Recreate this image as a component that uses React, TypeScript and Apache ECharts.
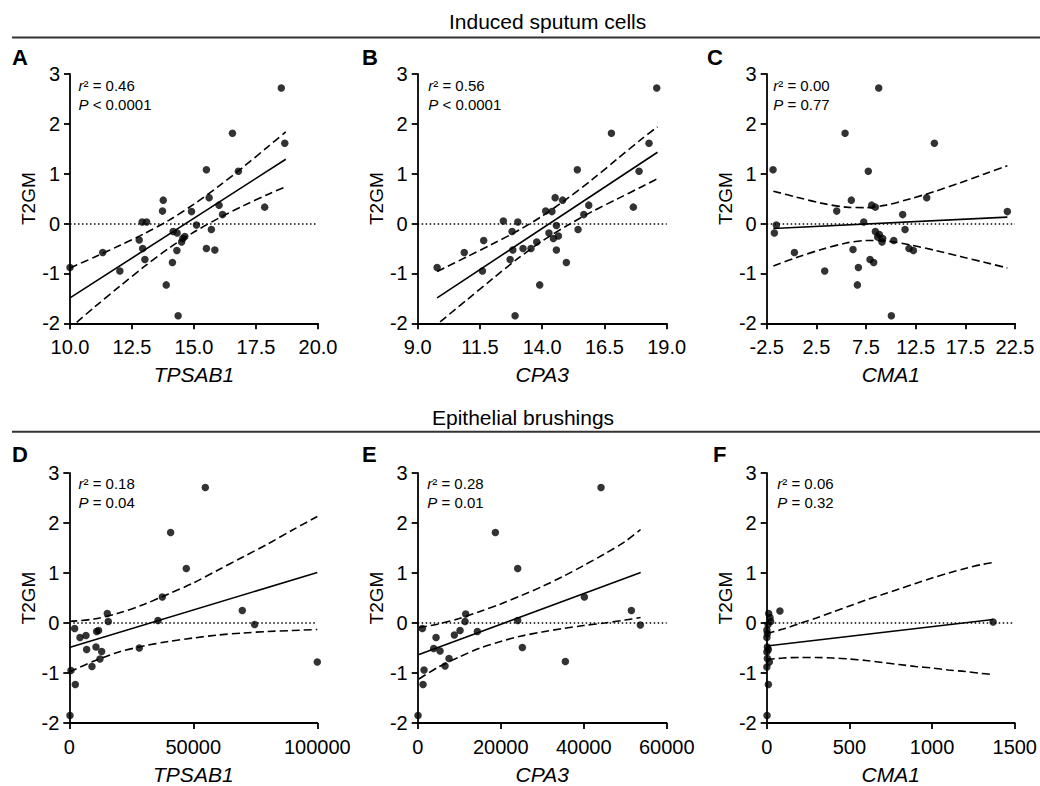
import React, { useEffect, useRef } from "react";
import * as echarts from "echarts";

const FONT = "'Liberation Sans', Arial, Helvetica, sans-serif";

// ---------- Data ----------
const yMin = -2;
const yMax = 3;
const yInterval = 1;

// A: induced sputum, TPSAB1
const pointsA: number[][] = [
  [18.52, 2.72], [16.55, 1.81], [18.66, 1.61], [15.5, 1.08], [16.79, 1.05], [13.76, 0.47],
  [15.61, 0.52], [13.73, 0.25], [14.9, 0.24], [16.01, 0.37], [16.15, 0.18], [17.85, 0.33],
  [12.91, 0.03], [13.09, 0.03], [15.1, -0.03], [14.16, -0.16], [14.32, -0.19], [15.7, -0.12],
  [12.79, -0.33], [14.63, -0.26], [14.5, -0.37], [14.55, -0.3], [12.93, -0.5], [11.32, -0.58],
  [13.02, -0.72], [14.31, -0.54], [15.5, -0.5], [15.84, -0.53], [14.13, -0.78], [12.01, -0.95],
  [10.0, -0.88], [13.88, -1.23], [14.36, -1.85],
];
const fitA: number[][] = [[10, -1.49], [18.7, 1.29]];
const upperA: number[][] = [
  [10, -0.89], [11, -0.67], [12, -0.44], [13, -0.2], [14, 0.07], [15, 0.39], [16, 0.75],
  [17, 1.14], [18, 1.55], [18.7, 1.84],
];
const lowerA: number[][] = [
  [10.27, -1.98], [11, -1.67], [12, -1.26], [13, -0.86], [14, -0.49], [15, -0.17], [16, 0.11],
  [17, 0.36], [18, 0.59], [18.7, 0.74],
];

// B: induced sputum, CPA3
const pointsB: number[][] = [
  [18.6, 2.72], [16.78, 1.81], [18.29, 1.61], [15.41, 1.08], [17.89, 1.05], [14.52, 0.52],
  [14.82, 0.47], [14.14, 0.25], [14.39, 0.24], [15.87, 0.37], [15.67, 0.18], [17.66, 0.33],
  [12.44, 0.05], [13.02, 0.03], [14.57, -0.04], [12.79, -0.16], [14.27, -0.19], [15.44, -0.12],
  [11.65, -0.34], [14.45, -0.3], [14.65, -0.25], [13.78, -0.37], [12.82, -0.53], [10.87, -0.58],
  [12.71, -0.72], [13.23, -0.5], [13.55, -0.5], [14.57, -0.53], [14.97, -0.78], [11.6, -0.95],
  [9.78, -0.88], [13.9, -1.23], [12.91, -1.85],
];
const fitB: number[][] = [[9.78, -1.49], [18.63, 1.43]];
const upperB: number[][] = [
  [9.78, -0.96], [11, -0.66], [12, -0.41], [13, -0.15], [14, 0.15], [15, 0.5], [16, 0.88],
  [17, 1.29], [18, 1.7], [18.63, 1.94],
];
const lowerB: number[][] = [
  [9.9, -1.97], [11, -1.52], [12, -1.11], [13, -0.71], [14, -0.35], [15, -0.04], [16, 0.24],
  [17, 0.49], [18, 0.74], [18.63, 0.9],
];

// C: induced sputum, CMA1
const pointsC: number[][] = [
  [8.78, 2.72], [5.39, 1.81], [14.38, 1.61], [-1.86, 1.08], [7.73, 1.05], [6.02, 0.47],
  [13.61, 0.52], [4.55, 0.25], [21.73, 0.24], [8.07, 0.37], [8.44, 0.33], [11.19, 0.18],
  [7.27, 0.03], [-1.53, -0.03], [-1.73, -0.19], [8.44, -0.16], [11.43, -0.12], [8.67, -0.27],
  [9.18, -0.3], [10.29, -0.34], [9.11, -0.37], [6.19, -0.52], [0.29, -0.58], [11.83, -0.5],
  [12.27, -0.54], [7.9, -0.72], [8.27, -0.78], [3.34, -0.95], [6.73, -0.88], [6.63, -1.23],
  [10.05, -1.85], [8.84, -0.22],
];
const fitC: number[][] = [[-1.83, -0.1], [21.73, 0.13]];
const upperC: number[][] = [
  [-1.83, 0.65], [0.5, 0.53], [3, 0.41], [5.5, 0.33], [7.5, 0.32], [9.5, 0.37], [12, 0.5],
  [14.5, 0.65], [17, 0.82], [19.5, 1.0], [21.73, 1.16],
];
const lowerC: number[][] = [
  [-1.83, -0.85], [0.5, -0.68], [3, -0.52], [5.5, -0.39], [7.5, -0.34], [9.5, -0.35], [12, -0.43],
  [14.5, -0.54], [17, -0.66], [19.5, -0.78], [21.73, -0.89],
];

// D: epithelial brushings, TPSAB1
const pointsD: number[][] = [
  [54839, 2.71], [40860, 1.81], [47177, 1.09], [37500, 0.52], [69758, 0.25], [74731, -0.03],
  [35753, 0.05], [15323, 0.19], [15726, 0.03], [2150, -0.11], [4301, -0.29], [6720, -0.25],
  [11022, -0.17], [11800, -0.15], [6989, -0.53], [10753, -0.48], [13038, -0.57], [12366, -0.72],
  [9140, -0.87], [28226, -0.5], [672, -0.95], [2419, -1.23], [269, -1.85], [100000, -0.78],
];
const fitD: number[][] = [[0, -0.49], [100000, 1.01]];
const upperD: number[][] = [
  [0, 0.03], [10000, 0.08], [20000, 0.2], [30000, 0.37], [40000, 0.58], [50000, 0.8],
  [60000, 1.06], [70000, 1.32], [80000, 1.58], [90000, 1.86], [100000, 2.13],
];
const lowerD: number[][] = [
  [0, -0.98], [10000, -0.76], [20000, -0.58], [30000, -0.46], [40000, -0.37], [50000, -0.3],
  [60000, -0.24], [70000, -0.2], [80000, -0.17], [90000, -0.15], [100000, -0.13],
];

// E: epithelial brushings, CPA3
const pointsE: number[][] = [
  [44177, 2.71], [18715, 1.81], [24096, 1.09], [40161, 0.52], [51486, 0.25], [53655, -0.04],
  [24096, 0.05], [11566, 0.18], [11406, 0.03], [1124, -0.11], [4418, -0.29], [8835, -0.24],
  [10201, -0.15], [14378, -0.17], [3855, -0.51], [5382, -0.56], [7550, -0.71], [6586, -0.86],
  [25221, -0.49], [35582, -0.77], [1526, -0.94], [1285, -1.23], [80, -1.85],
];
const fitE: number[][] = [[321, -0.63], [53735, 1.01]];
const upperE: number[][] = [
  [300, -0.09], [5000, -0.02], [10000, 0.09], [15000, 0.23], [20000, 0.38], [25000, 0.55],
  [30000, 0.73], [35000, 0.93], [40000, 1.15], [45000, 1.38], [50000, 1.63], [53700, 1.87],
];
const lowerE: number[][] = [
  [300, -1.12], [5000, -0.88], [10000, -0.68], [15000, -0.5], [20000, -0.37], [25000, -0.26],
  [30000, -0.18], [35000, -0.11], [40000, -0.05], [45000, 0.0], [50000, 0.06], [53700, 0.11],
];

// F: epithelial brushings, CMA1
const pointsF: number[][] = [
  [12, 0.19], [20, 0.11], [24, 0.03], [8, -0.03], [1, -0.14], [4, -0.21], [1, -0.29],
  [4, -0.48], [10, -0.53], [1, -0.58], [4, -0.71], [16, -0.78], [1, -0.88], [10, -1.23],
  [2, -1.85], [80, 0.24], [1369, 0.02],
];
const fitF: number[][] = [[0, -0.46], [1369, 0.07]];
const upperF: number[][] = [
  [0, -0.21], [100, -0.12], [200, -0.01], [300, 0.1], [400, 0.22], [500, 0.34], [600, 0.46],
  [700, 0.57], [800, 0.68], [900, 0.79], [1000, 0.9], [1100, 1.0], [1200, 1.09], [1300, 1.17],
  [1369, 1.21],
];
const lowerF: number[][] = [
  [0, -0.73], [100, -0.7], [200, -0.69], [300, -0.69], [400, -0.7], [500, -0.72], [600, -0.75],
  [700, -0.79], [800, -0.83], [900, -0.87], [1000, -0.9], [1100, -0.94], [1200, -0.97],
  [1300, -1.01], [1369, -1.03],
];

const letters = ["A", "B", "C", "D", "E", "F"];
const geneNames = ["TPSAB1", "CPA3", "CMA1", "TPSAB1", "CPA3", "CMA1"];
const r2Values = ["0.46", "0.56", "0.00", "0.18", "0.28", "0.06"];
const pValues = ["< 0.0001", "< 0.0001", "= 0.77", "= 0.04", "= 0.01", "= 0.32"];
const xMins = [10, 9, -2.5, 0, 0, 0];
const xMaxs = [20, 19, 22.5, 100000, 60000, 1500];
const xIntervals = [2.5, 2.5, 5, 50000, 20000, 500];
const xDecimals = [1, 1, 1, 0, 0, 0];
const sectionTitles = ["Induced sputum cells", "Epithelial brushings"];

const allPoints = [pointsA, pointsB, pointsC, pointsD, pointsE, pointsF];
const allFits = [fitA, fitB, fitC, fitD, fitE, fitF];
const allUpper = [upperA, upperB, upperC, upperD, upperE, upperF];
const allLower = [lowerA, lowerB, lowerC, lowerD, lowerE, lowerF];

// ---------- Layout ----------
const gridLefts = [70, 417.7, 766.7, 69.3, 417.7, 766.7];
const gridWidths = [248, 249, 248.3, 248, 249, 248.3];
const gridTops = [74, 74, 74, 473, 473, 473];
const gridHeights = [249.3, 249.3, 249.3, 250, 250, 250];
const letterX = [12, 362, 707, 12, 362, 713];
const letterY = [57.5, 57.5, 57.5, 454, 454, 454];
const annotX = [78.5, 428.3, 773.3, 78.5, 427.3, 777.3];
const annotY1 = [85.7, 85.7, 85.7, 483.3, 483.3, 483.3];
const annotY2 = [104, 104, 104, 502.7, 502.7, 502.7];
const titleX = [449, 432];
const titleY = [21, 417];
const ruleY = [37.5, 431.7];

function buildOption() {
  const axisLine = { show: true, onZero: false, lineStyle: { color: "#000", width: 1.8 } };
  const axisTick = { show: true, length: 6, inside: false, lineStyle: { color: "#000", width: 1.8 } };

  const grid = letters.map((_, i) => ({
    left: gridLefts[i],
    top: gridTops[i],
    width: gridWidths[i],
    height: gridHeights[i],
    containLabel: false,
  }));

  const xAxis = letters.map((_, i) => ({
    type: "value",
    gridIndex: i,
    min: xMins[i],
    max: xMaxs[i],
    interval: xIntervals[i],
    axisLine,
    axisTick,
    splitLine: { show: false },
    axisLabel: {
      color: "#000",
      fontSize: 20,
      fontFamily: FONT,
      margin: 14,
      formatter: (v: number) => v.toFixed(xDecimals[i]),
    },
    name: geneNames[i],
    nameLocation: "middle",
    nameGap: 41,
    nameTextStyle: { color: "#000", fontSize: 21, fontStyle: "italic", fontFamily: FONT },
  }));

  const yAxis = letters.map((_, i) => ({
    type: "value",
    gridIndex: i,
    min: yMin,
    max: yMax,
    interval: yInterval,
    axisLine,
    axisTick,
    splitLine: { show: false },
    axisLabel: { color: "#000", fontSize: 20, fontFamily: FONT, margin: 10 },
    name: "T2GM",
    nameLocation: "middle",
    nameGap: 24,
    nameTextStyle: { color: "#000", fontSize: 19, fontFamily: FONT },
  }));

  const series: any[] = [];
  letters.forEach((_, i) => {
    series.push({
      type: "line",
      xAxisIndex: i,
      yAxisIndex: i,
      data: allUpper[i],
      showSymbol: false,
      smooth: 0.3,
      lineStyle: { color: "#000", width: 1.6, type: [8, 4] },
      z: 2,
      silent: true,
    });
    series.push({
      type: "line",
      xAxisIndex: i,
      yAxisIndex: i,
      data: allLower[i],
      showSymbol: false,
      smooth: 0.3,
      lineStyle: { color: "#000", width: 1.6, type: [8, 4] },
      z: 2,
      silent: true,
    });
    series.push({
      type: "line",
      xAxisIndex: i,
      yAxisIndex: i,
      data: allFits[i],
      showSymbol: false,
      lineStyle: { color: "#000", width: 1.6 },
      z: 2,
      silent: true,
    });
    series.push({
      type: "scatter",
      xAxisIndex: i,
      yAxisIndex: i,
      data: allPoints[i],
      symbol: "circle",
      symbolSize: 7.5,
      itemStyle: { color: "#000" },
      z: 3,
      silent: true,
      markLine: {
        silent: true,
        symbol: ["none", "none"],
        label: { show: false },
        lineStyle: { color: "#000", type: [1.5, 2.5], width: 1.5 },
        data: [{ yAxis: 0 }],
      },
    });
  });

  const graphic: any[] = [];
  sectionTitles.forEach((t, k) => {
    graphic.push({
      type: "text",
      x: titleX[k],
      y: titleY[k],
      style: {
        text: t,
        fontSize: 21,
        fontFamily: FONT,
        fill: "#000",
        textAlign: "left",
        textVerticalAlign: "middle",
      },
    });
    graphic.push({
      type: "line",
      shape: { x1: 12, y1: ruleY[k], x2: 1040, y2: ruleY[k] },
      style: { stroke: "#333", lineWidth: 2 },
    });
  });
  letters.forEach((l, i) => {
    graphic.push({
      type: "text",
      x: letterX[i],
      y: letterY[i],
      style: {
        text: l,
        fontSize: 22,
        fontWeight: "bold",
        fontFamily: FONT,
        fill: "#000",
        textAlign: "left",
        textVerticalAlign: "middle",
      },
    });
    graphic.push({
      type: "text",
      x: annotX[i],
      y: annotY1[i],
      style: {
        text: "{i|r}² = " + r2Values[i],
        fontSize: 15,
        fontFamily: FONT,
        fill: "#000",
        textAlign: "left",
        textVerticalAlign: "middle",
        rich: { i: { fontStyle: "italic", fontSize: 15, fontFamily: FONT, fill: "#000" } },
      },
    });
    graphic.push({
      type: "text",
      x: annotX[i],
      y: annotY2[i],
      style: {
        text: "{i|P} " + pValues[i],
        fontSize: 15,
        fontFamily: FONT,
        fill: "#000",
        textAlign: "left",
        textVerticalAlign: "middle",
        rich: { i: { fontStyle: "italic", fontSize: 15, fontFamily: FONT, fill: "#000" } },
      },
    });
  });

  return {
    animation: false,
    backgroundColor: "#fff",
    textStyle: { fontFamily: FONT },
    grid,
    xAxis,
    yAxis,
    series,
    graphic,
  };
}

export default function App() {
  const ref = useRef<HTMLDivElement>(null);
  useEffect(() => {
    if (!ref.current) return;
    const chart = echarts.init(ref.current, undefined, { renderer: "svg" });
    chart.setOption(buildOption() as any);
    return () => chart.dispose();
  }, []);
  return (
    <div
      ref={ref}
      style={{ position: "absolute", left: 0, top: 0, width: 1040, height: 786, background: "#fff" }}
    />
  );
}
